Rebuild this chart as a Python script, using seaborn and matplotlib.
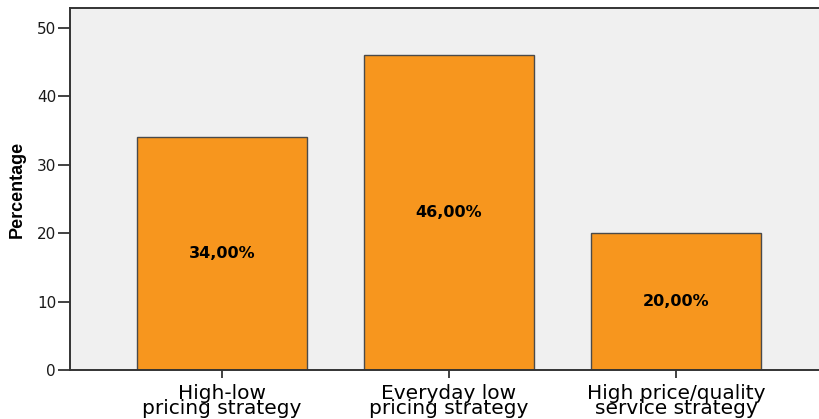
import matplotlib
matplotlib.use("Agg")
import matplotlib.pyplot as plt
import seaborn as sns
import pandas as pd

categories = ["High-low\npricing strategy", "Everyday low\npricing strategy", "High price/quality\nservice strategy"]
values = [34.0, 46.0, 20.0]
value_labels = ["34,00%", "46,00%", "20,00%"]
yticks = [0, 10, 20, 30, 40, 50]

sns.set_theme(style="white")
plt.rcParams['font.family'] = ['DejaVu Sans']

df = pd.DataFrame({"cat": categories, "val": values})

fig = plt.figure(figsize=(8.19, 4.19), dpi=100)
ax = fig.add_axes([70/819, 49/419, 1 - 70/819, 362/419])
ax.set_facecolor("#f0f0f0")

sns.barplot(data=df, x="cat", y="val", color="#f7961e", saturation=1,
            edgecolor="#4a4a4a", linewidth=1.0, width=0.75, ax=ax)

for i, (v, lab) in enumerate(zip(values, value_labels)):
    ax.text(i, v / 2, lab, ha="center", va="center", fontsize=11.5,
            fontweight="bold", color="black")

ax.set_xlim(-0.67, 2.63)
ax.set_ylim(0, 52.9)
ax.set_yticks(yticks)
ax.set_yticklabels([str(t) for t in yticks], fontsize=11, color="#1a1a1a")
ax.set_xticks(range(len(categories)))
ax.set_xticklabels(categories, fontsize=14.5, color="black", linespacing=0.72)
ax.set_xlabel("")
ax.set_ylabel("Percentage", fontsize=13, fontweight="bold", labelpad=8,
              color="black", family=["Liberation Sans", "DejaVu Sans"])

ax.tick_params(axis="y", length=9, width=1.3, color="#333333", pad=1, left=True)
ax.tick_params(axis="x", length=6, width=1.3, color="#333333", pad=4, bottom=True)

for s in ["left", "top", "bottom"]:
    ax.spines[s].set_visible(True)
    ax.spines[s].set_color("#333333")
    ax.spines[s].set_linewidth(1.4)
ax.spines["right"].set_visible(False)

fig.savefig("out.png", dpi=100, facecolor="white")
